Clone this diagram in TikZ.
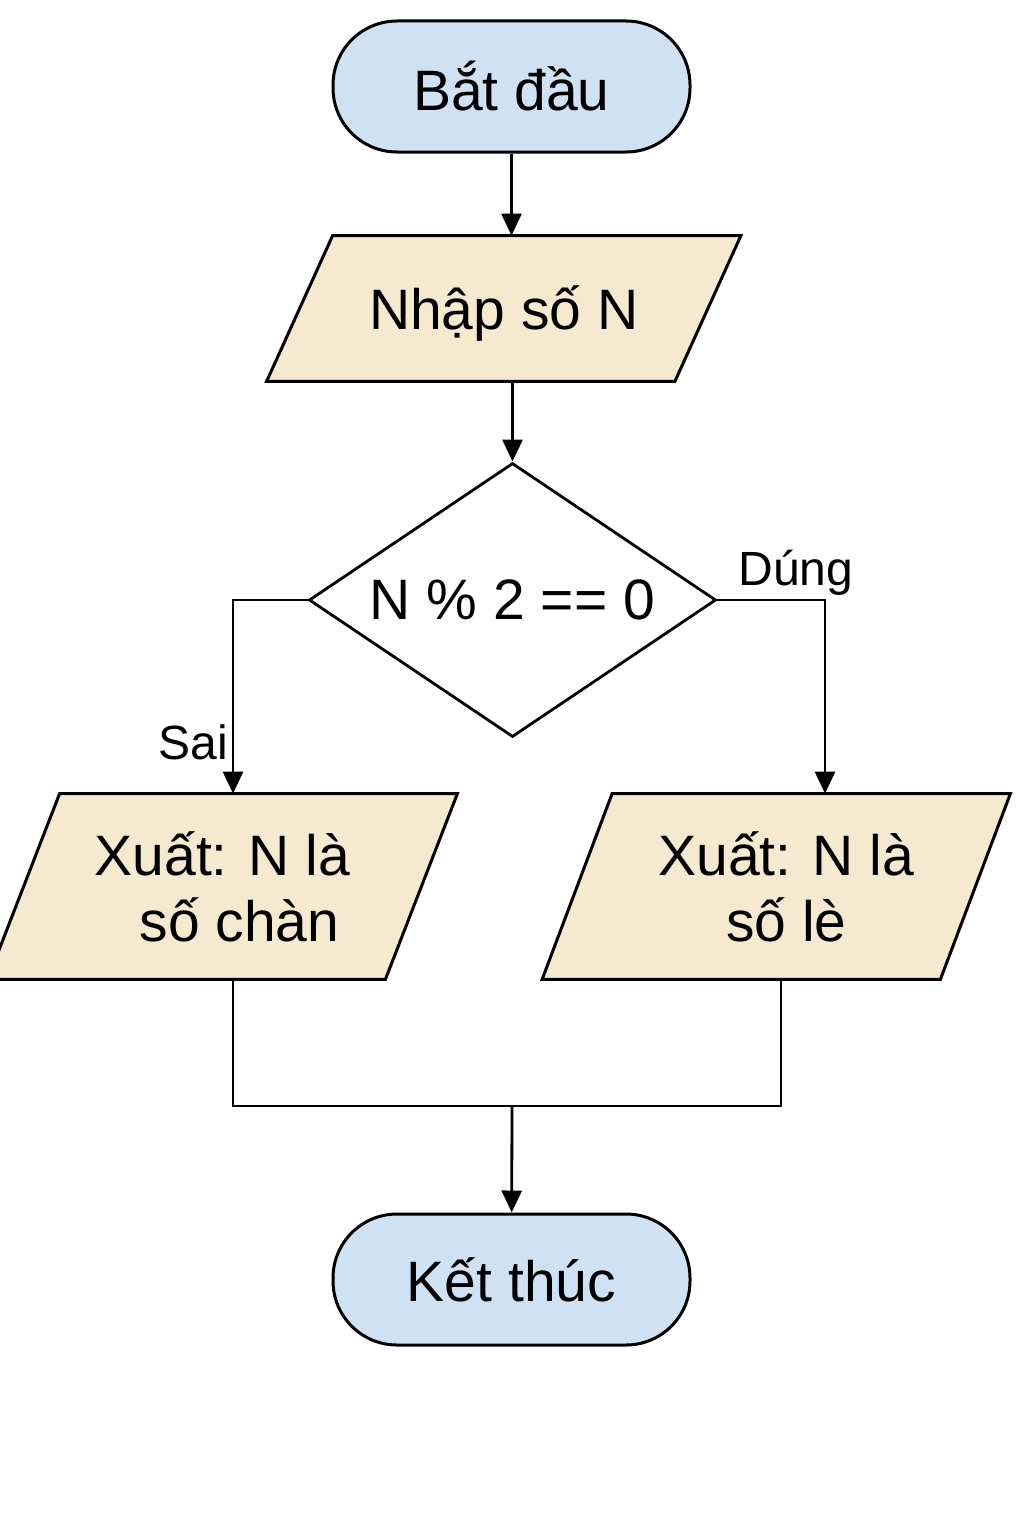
\documentclass[tikz,border=0pt]{standalone}
\usepackage{fontspec}
\setmainfont{Liberation Sans}
\usetikzlibrary{shapes.geometric,arrows.meta,calc,backgrounds}
\definecolor{termblue}{RGB}{207,226,243}
\definecolor{iobeige}{RGB}{245,233,208}
% slanted frame behind an input/output node: #1 node name, #2 half of the slant
\newcommand{\ioframe}[2]{
	\begin{scope}[on background layer]
		\draw [line width=1.5pt, fill=iobeige] ($(#1.north west)+(#2,0)$) -- ($(#1.north east)+(#2,0)$) -- ($(#1.south east)-(#2,0)$) -- ($(#1.south west)-(#2,0)$) -- cycle;
	\end{scope}
}
\begin{document}
\begin{tikzpicture}[x=0.5pt,y=-0.5pt,
		terminal/.style={draw, line width=1.5pt, fill=termblue, rounded corners=32pt, minimum width=178.5pt, minimum height=65.5pt, font=\fontsize{28.5}{33}\selectfont},
		io/.style={rectangle, align=center, inner sep=0pt, font=\fontsize{28.5}{33}\selectfont},
		decision/.style={draw, line width=1.4pt, diamond, aspect=1.485, minimum width=203.5pt, minimum height=137pt, inner sep=0pt, font=\fontsize{28.5}{33}\selectfont},
		lbl/.style={font=\fontsize{24}{28}\selectfont},
		arr/.style={line width=1.4pt, -{Triangle[length=11pt, width=10pt]}}]
				\useasboundingbox (0,0) rectangle (1024,1536);
				\node (start) [terminal] at (511.5,86.5) {Bắt đầu};
				\node (input) [io, minimum width=203.75pt, minimum height=72.5pt] at (503.75,308.5) {\raisebox{-2.5pt}[\height][\depth]{Nhập số N}};
				\node (check) [decision] at (512.5,600) {N \% 2 == 0};
				\node (outeven) [io, minimum width=198.5pt, minimum height=92.5pt] at (222.5,886.5) {Xuất: N là\\\hspace*{17pt}số chàn};
				\node (outodd) [io, minimum width=198.75pt, minimum height=92.5pt] at (776.25,886.5) {\hspace*{10pt}Xuất: N là\\\hspace*{10pt}số lè};
				\node (stop) [terminal] at (511.5,1279.5) {Kết thúc};
				\node (sai) [lbl] at (193,742) {Sai};
				\node (dung) [lbl] at (796,573) {Dúng};
				\ioframe{input}{33}
				\ioframe{outeven}{36}
				\ioframe{outodd}{35}
				\coordinate (join) at (512,1106);
				\draw [arr] (start.south) -- (start.south |- input.north);
				\draw [arr] (check.north |- input.south) -- (check.north);
				\draw [arr] (check.west) -| ($(outeven.north)+(10.5,0)$);
				\draw [arr] (check.east) -| ($(outodd.north)+(48.75,0)$);
				\draw [line width=1.4pt] ($(outeven.south)+(10.5,0)$) |- (join) -| ($(outodd.south)+(4.75,0)$);
				\draw [arr] (join) -- (stop);
			\end{tikzpicture}
\end{document}
